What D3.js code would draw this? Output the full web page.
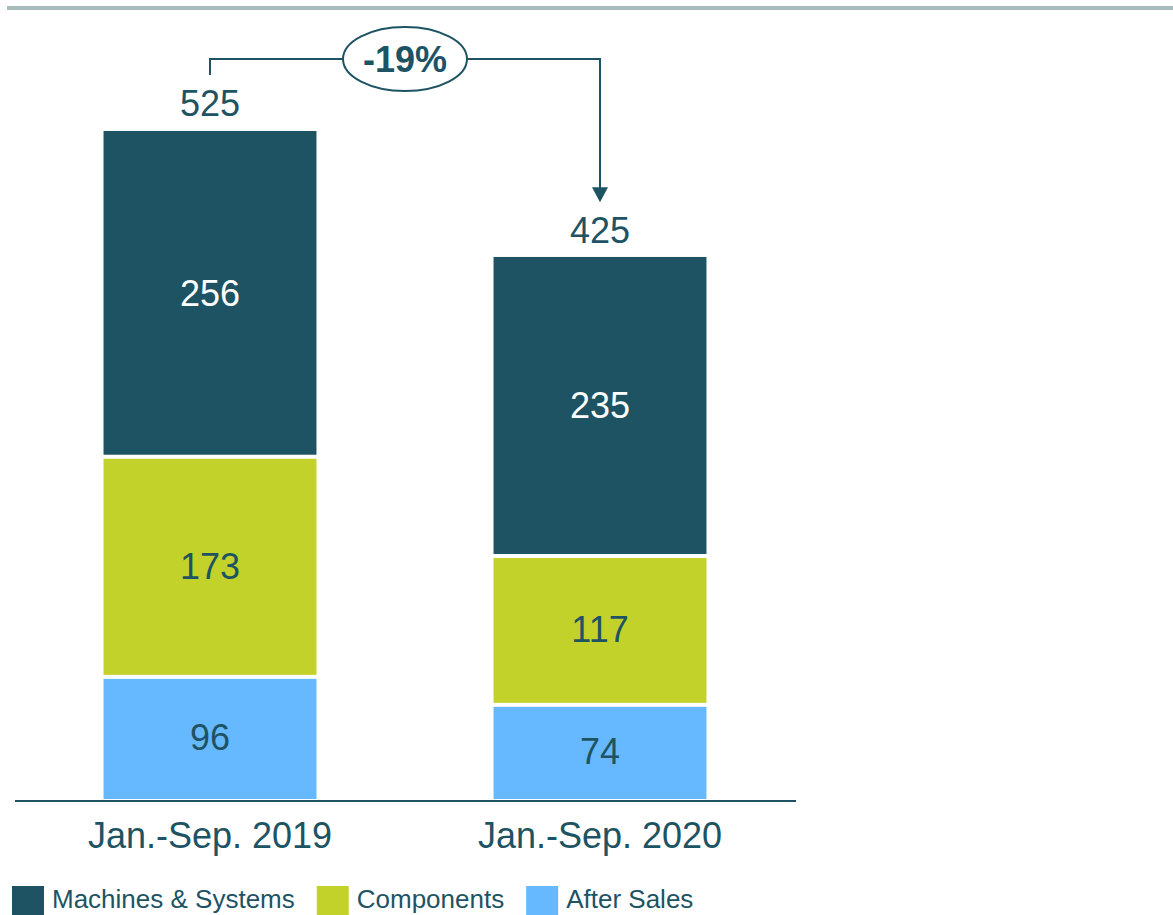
<!DOCTYPE html>
<html>
<head>
<meta charset="utf-8">
<script src="https://cdn.jsdelivr.net/npm/d3@7"></script>
<style>
  html, body { margin: 0; padding: 0; background: #fff; overflow: hidden; }
  svg { display: block; font-family: "Liberation Sans", Arial, sans-serif; }
</style>
</head>
<body>
<svg id="chart" width="1173" height="915"></svg>
<script>
// Data
const periods = ['Jan.-Sep. 2019', 'Jan.-Sep. 2020'];
const seriesNames = ['After Sales', 'Components', 'Machines & Systems'];
const afterSales = [96, 74];
const components = [173, 117];
const machines = [256, 235];
const totals = [525, 425];
const changeLabel = '-19%';
const legendOrder = ['Machines & Systems', 'Components', 'After Sales'];

const DARK = '#1e5364';
const COLORS = { 'Machines & Systems': DARK, 'Components': '#c2d22a', 'After Sales': '#66b9ff' };
const TEXT_ON = { 'Machines & Systems': '#ffffff', 'Components': DARK, 'After Sales': DARK };

const svg = d3.select('#chart');

// top rule
svg.append('rect').attr('x', 7).attr('y', 6).attr('width', 1166).attr('height', 4).attr('fill', '#a9babd');

const rows = periods.map((p, i) => ({
  period: p,
  'After Sales': afterSales[i],
  'Components': components[i],
  'Machines & Systems': machines[i],
  total: totals[i]
}));

const x = d3.scaleBand().domain(periods).range([15, 795]).paddingInner(0.454).paddingOuter(0.227);
const y = d3.scaleLinear().domain([0, 525]).range([799, 131]);

const stacked = d3.stack().keys(seriesNames)(rows);
const GAP = 2;

stacked.forEach((layer, li) => {
  const key = layer.key;
  const last = li === stacked.length - 1;
  const g = svg.append('g');
  g.selectAll('rect').data(layer).join('rect')
    .attr('x', d => x(d.data.period))
    .attr('width', x.bandwidth())
    .attr('y', d => y(d[1]) + (last ? 0 : GAP))
    .attr('height', d => (y(d[0]) - (li > 0 ? GAP : 0)) - (y(d[1]) + (last ? 0 : GAP)))
    .attr('fill', COLORS[key]);
  g.selectAll('text').data(layer).join('text')
    .attr('x', d => x(d.data.period) + x.bandwidth() / 2)
    .attr('y', d => (y(d[0]) + y(d[1])) / 2 + 12)
    .attr('text-anchor', 'middle')
    .attr('font-size', 36)
    .attr('fill', TEXT_ON[key])
    .text(d => d.data[key]);
});

// totals
svg.selectAll('.total').data(rows).join('text')
  .attr('class', 'total')
  .attr('x', d => x(d.period) + x.bandwidth() / 2)
  .attr('y', d => y(d.total) - 15)
  .attr('text-anchor', 'middle')
  .attr('font-size', 36)
  .attr('fill', DARK)
  .text(d => d.total);

// baseline axis
svg.append('line').attr('x1', 15).attr('x2', 796).attr('y1', 801).attr('y2', 801)
  .attr('stroke', DARK).attr('stroke-width', 2);

// category labels
svg.append('g').attr('transform', 'translate(0,801)')
  .call(d3.axisBottom(x).tickSize(0).tickPadding(0))
  .call(g => g.select('.domain').remove())
  .selectAll('text')
    .attr('y', 47).attr('dy', 0)
    .attr('font-size', 36)
    .attr('font-family', '"Liberation Sans", Arial, sans-serif')
    .attr('fill', DARK);

// change bracket with arrow
const cx0 = x(periods[0]) + x.bandwidth() / 2;
const cx1 = x(periods[1]) + x.bandwidth() / 2;
const bracketY = 59;
const tipY = y(totals[1]) - 56;
svg.append('path')
  .attr('d', `M${cx0},${y(totals[0]) - 56} V${bracketY} H${cx1} V${tipY - 14}`)
  .attr('fill', 'none').attr('stroke', DARK).attr('stroke-width', 2);
svg.append('path')
  .attr('d', `M${cx1 - 8},${tipY - 15} L${cx1 + 8},${tipY - 15} L${cx1},${tipY} Z`)
  .attr('fill', DARK);

const mid = (cx0 + cx1) / 2;
svg.append('ellipse').attr('cx', mid).attr('cy', bracketY).attr('rx', 62).attr('ry', 32)
  .attr('fill', '#fff').attr('stroke', DARK).attr('stroke-width', 2);
svg.append('text').attr('x', mid).attr('y', bracketY + 13)
  .attr('text-anchor', 'middle').attr('font-size', 36).attr('font-weight', 'bold')
  .attr('fill', DARK).text(changeLabel);

// legend
const legend = svg.append('g');
let lx = 12;
legendOrder.forEach(name => {
  legend.append('rect').attr('x', lx).attr('y', 886).attr('width', 32).attr('height', 29)
    .attr('fill', COLORS[name]);
  const t = legend.append('text').attr('x', lx + 40).attr('y', 908)
    .attr('font-size', 26).attr('fill', DARK).text(name);
  lx += 40 + t.node().getComputedTextLength() + 22;
});
</script>
</body>
</html>
